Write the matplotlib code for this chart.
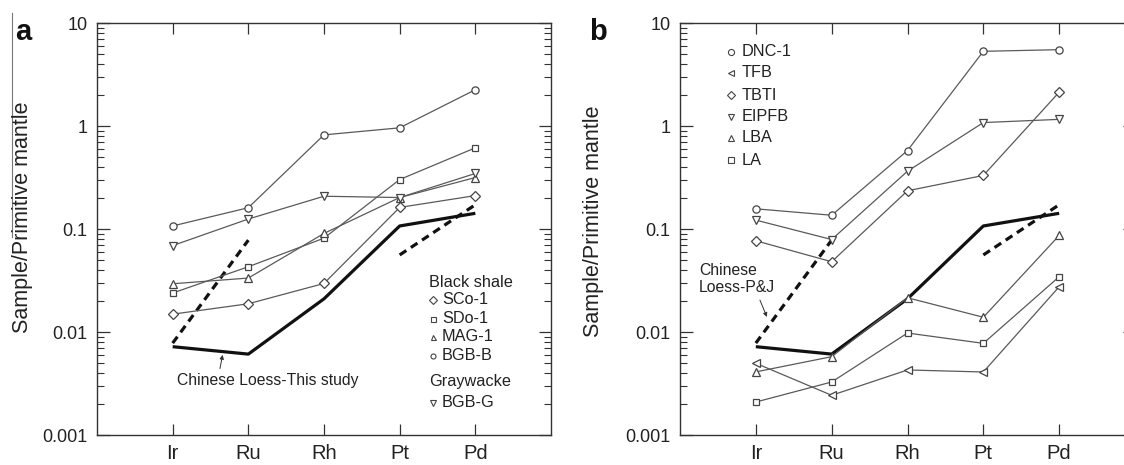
import numpy as np
import matplotlib
matplotlib.use('Agg')
import matplotlib.pyplot as plt
from matplotlib.lines import Line2D
from matplotlib.ticker import LogLocator, NullFormatter

plt.rcParams['font.family'] = ['Liberation Sans', 'DejaVu Sans']

elements = ['Ir', 'Ru', 'Rh', 'Pt', 'Pd']
ytick_vals = [0.001, 0.01, 0.1, 1, 10]
ytick_labels = ['0.001', '0.01', '0.1', '1', '10']

# Chinese loess, shown in both panels
loess_this_study = [0.0072, 0.0061, 0.021, 0.107, 0.142]
loess_pj = [0.0078, 0.078, np.nan, 0.056, 0.172]

# panel a: black shale + graywacke
names_a = ['SCo-1', 'SDo-1', 'MAG-1', 'BGB-B', 'BGB-G']
markers_a = ['D', 's', '^', 'o', 'v']
sco1 = [0.0149, 0.0188, 0.0296, 0.162, 0.211]
sdo1 = [0.0239, 0.043, 0.0815, 0.302, 0.614]
mag1 = [0.0294, 0.0334, 0.0906, 0.202, 0.316]
bgb_b = [0.107, 0.161, 0.82, 0.96, 2.25]
bgb_g = [0.069, 0.125, 0.208, 0.202, 0.346]
values_a = [sco1, sdo1, mag1, bgb_b, bgb_g]

# panel b
names_b = ['DNC-1', 'TFB', 'TBTI', 'EIPFB', 'LBA', 'LA']
markers_b = ['o', '<', 'D', 'v', '^', 's']
dnc1 = [0.157, 0.136, 0.578, 5.31, 5.51]
tfb = [0.00497, 0.00243, 0.00428, 0.00409, 0.0275]
tbti = [0.0769, 0.0481, 0.235, 0.331, 2.13]
eipfb = [0.122, 0.079, 0.364, 1.08, 1.16]
lba = [0.0041, 0.00576, 0.0215, 0.0139, 0.0865]
la = [0.00209, 0.00327, 0.00977, 0.00776, 0.0344]
values_b = [dnc1, tfb, tbti, eipfb, lba, la]

txt_col = '#222222'
line_col = '#5a5a5a'
msize = {'o': 5.2, 's': 5.0, 'D': 4.6, '^': 5.8, 'v': 5.8, '<': 5.8}


def setup_axes(ax):
    x = np.arange(1, len(elements) + 1)
    ax.set_xlim(0, 6)
    ax.set_xticks(x)
    ax.set_xticklabels(elements)
    ax.set_yscale('log')
    ax.set_ylim(0.001, 10)
    ax.set_yticks(ytick_vals)
    ax.set_yticklabels(ytick_labels)
    ax.yaxis.set_minor_locator(LogLocator(base=10, subs=np.arange(2, 10)))
    ax.yaxis.set_minor_formatter(NullFormatter())
    ax.tick_params(axis='y', which='major', direction='in', length=9, width=0.9,
                   left=True, right=True, labelsize=13, pad=7,
                   color='#333333', labelcolor=txt_col)
    ax.tick_params(axis='y', which='minor', direction='in', length=5, width=0.8,
                   left=True, right=True, color='#333333')
    ax.tick_params(axis='x', which='major', direction='in', length=8, width=0.9,
                   top=True, bottom=True, labelsize=14.5, pad=6.5,
                   color='#333333', labelcolor=txt_col)
    for sp in ax.spines.values():
        sp.set_linewidth(1.0)
        sp.set_color('#333333')


def draw_samples(ax, values, markers):
    x = np.arange(1, len(elements) + 1)
    for v, m in zip(values, markers):
        ax.plot(x, v, color=line_col, lw=0.9, marker=m, ms=msize[m],
                mfc='white', mec='#444444', mew=0.9, zorder=3)


def draw_loess(ax):
    x = np.arange(1, len(elements) + 1)
    ax.plot(x, loess_this_study, color='#111111', lw=2.3, zorder=2.5,
            solid_capstyle='butt')
    ax.plot(x, loess_pj, color='#111111', lw=2.3, dashes=(2.5, 1.7),
            zorder=2.5, dash_capstyle='butt')


fig = plt.figure(figsize=(11.24, 4.65), dpi=100)
W, H = 1124, 465
ax_a = fig.add_axes([97 / W, 1 - 435 / H, 454 / W, 412 / H])
ax_b = fig.add_axes([680 / W, 1 - 435 / H, 455 / W, 412 / H])

for ax in (ax_a, ax_b):
    setup_axes(ax)
    draw_loess(ax)

draw_samples(ax_a, values_a, markers_a)
draw_samples(ax_b, values_b, markers_b)

# legend a (manual, two groups)
ax_a.text(0.731, 0.371, 'Black shale', transform=ax_a.transAxes, fontsize=11.7,
          color=txt_col, ha='left', va='center')
rows_a = [0.328, 0.282, 0.238, 0.192]
for name, m, yy in zip(names_a[:4], markers_a[:4], rows_a):
    ax_a.plot([0.740], [yy], transform=ax_a.transAxes, marker=m, ms=3.6,
              mfc='white', mec='#444444', mew=0.8, ls='none', clip_on=False)
    ax_a.text(0.760, yy, name, transform=ax_a.transAxes, fontsize=11.7,
              color=txt_col, ha='left', va='center')
ax_a.text(0.731, 0.129, 'Graywacke', transform=ax_a.transAxes, fontsize=11.7,
          color=txt_col, ha='left', va='center')
ax_a.plot([0.740], [0.078], transform=ax_a.transAxes, marker=markers_a[4], ms=3.8,
          mfc='white', mec='#444444', mew=0.8, ls='none', clip_on=False)
ax_a.text(0.760, 0.078, names_a[4], transform=ax_a.transAxes, fontsize=11.7,
          color=txt_col, ha='left', va='center')

# legend b
rows_b = [0.930, 0.879, 0.825, 0.772, 0.721, 0.667]
for name, m, yy in zip(names_b, markers_b, rows_b):
    ax_b.plot([0.113], [yy], transform=ax_b.transAxes, marker=m, ms=4.4,
              mfc='white', mec='#444444', mew=0.8, ls='none')
    ax_b.text(0.136, yy, name, transform=ax_b.transAxes, fontsize=11.7,
              color=txt_col, ha='left', va='center')

# annotations
ax_a.annotate('Chinese Loess-This study', xy=(1.66, 0.0060), xycoords='data',
              xytext=(0.377, 0.133), textcoords='axes fraction',
              fontsize=11.3, color=txt_col, ha='center', va='center',
              arrowprops=dict(arrowstyle='-|>', color='#333333', lw=0.7,
                              mutation_scale=6, relpos=(0.23, 1.0),
                              shrinkA=1, shrinkB=0))
ax_b.annotate('Chinese\nLoess-P&J', xy=(1.146, 0.0140), xycoords='data',
              xytext=(0.042, 0.379), textcoords='axes fraction',
              fontsize=11.3, color=txt_col, ha='left', va='center',
              linespacing=1.15, multialignment='left',
              arrowprops=dict(arrowstyle='-|>', color='#333333', lw=0.7,
                              mutation_scale=6, relpos=(0.77, 0.0),
                              shrinkA=2, shrinkB=0))

# panel letters and y labels
fig.text(15 / W, 1 - 40 / H, 'a', fontsize=21, fontweight='bold',
         ha='left', va='baseline', color='#111111')
fig.text(589 / W, 1 - 40 / H, 'b', fontsize=21, fontweight='bold',
         ha='left', va='baseline', color='#111111')
fig.text(23 / W, 1 - 217 / H, 'Sample/Primitive mantle', rotation=90,
         fontsize=15.5, ha='center', va='center', color=txt_col)
fig.text(594 / W, 1 - 221 / H, 'Sample/Primitive mantle', rotation=90,
         fontsize=15.5, ha='center', va='center', color=txt_col)

# thin vertical rule left of panel a (scan border in the source figure)
fig.add_artist(Line2D([12 / W, 12 / W], [1 - 13 / H, 1 - 237 / H],
                      color='#777777', lw=0.8))

fig.savefig('out.png', dpi=100)
